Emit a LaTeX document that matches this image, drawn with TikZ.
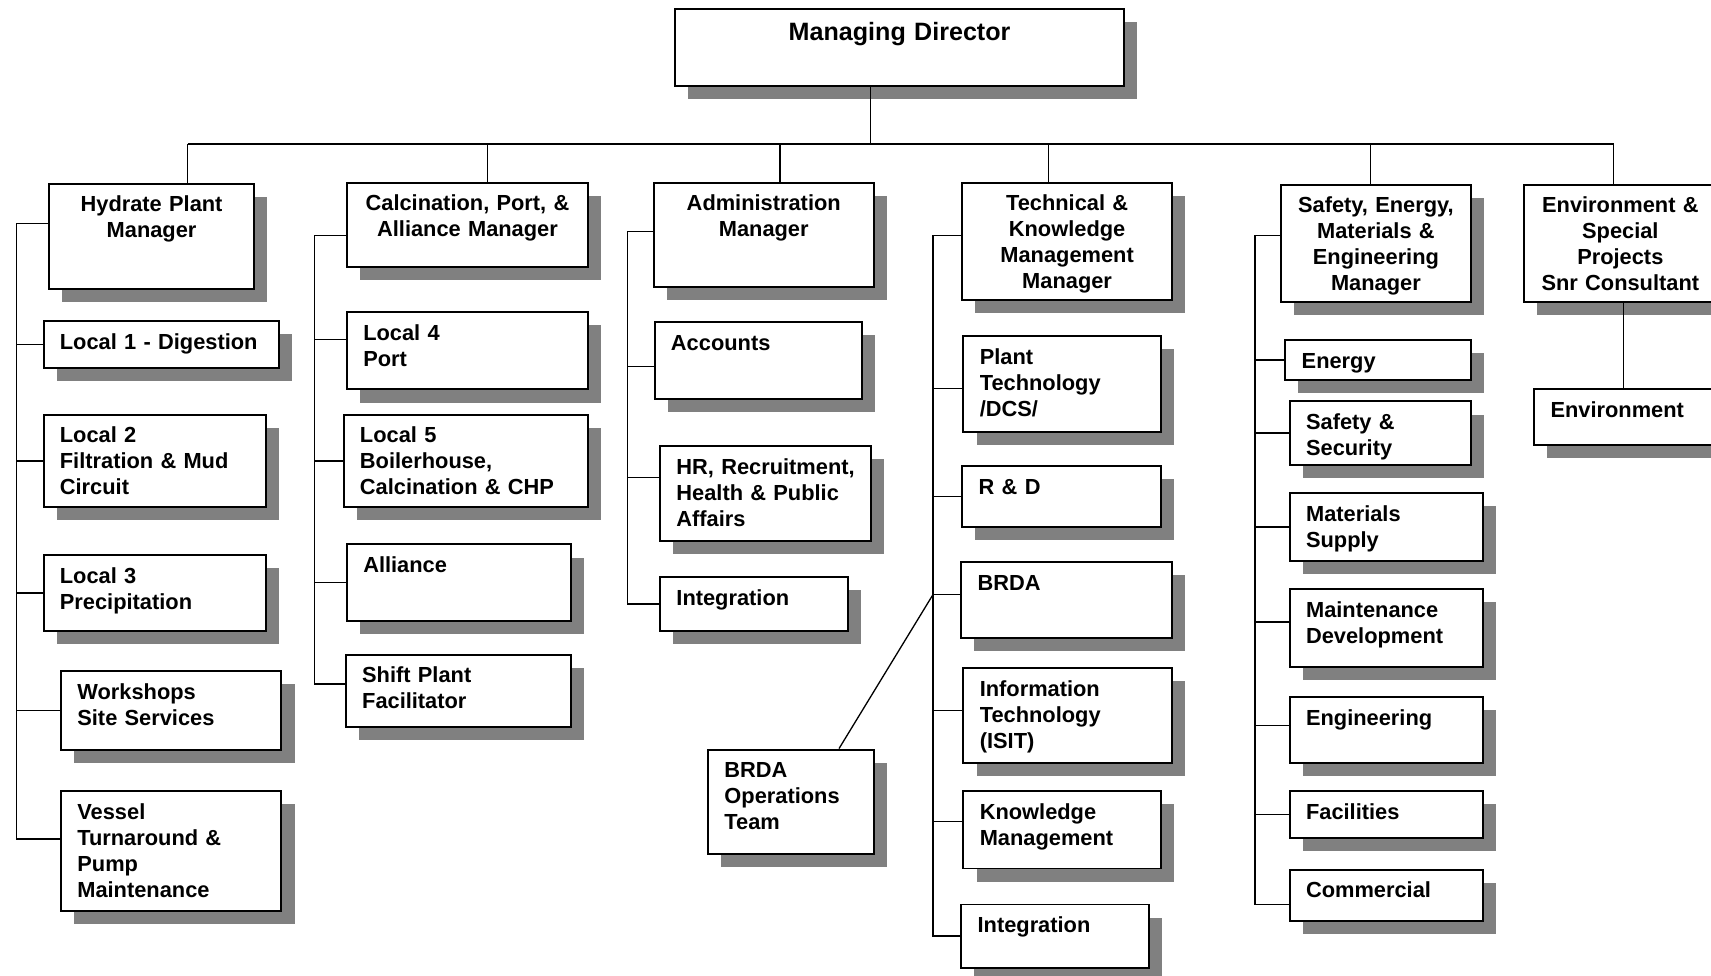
\documentclass[tikz,border=0pt]{standalone}
\usepackage{fontspec}
\setmainfont{Liberation Sans}
\usetikzlibrary{shadows}
\definecolor{shadowgray}{HTML}{808080}

\tikzset{
  unit/.style={draw, line width=0.9pt, fill=white, anchor=north west,
    drop shadow={shadow xshift=6pt, shadow yshift=-6pt, fill=shadowgray, opacity=1},
    inner xsep=7.5pt, inner ysep=4pt, text height=9pt,
    font=\fontsize{10}{11.9}\selectfont\bfseries,
    execute at begin node={\rightskip=0pt plus 1fil minus 100pt}},
  head/.style={unit, inner xsep=3pt, inner ysep=3.5pt,
    execute at begin node={\leftskip=0pt plus 1fil\rightskip=0pt plus 1fil minus 100pt\parfillskip=0pt\let\\\par}},
  chief/.style={head, inner ysep=5.5pt, font=\fontsize{11.5}{13}\selectfont\bfseries},
  dims/.style 2 args={
    /utils/exec={\pgfmathsetlengthmacro\boxw{#1*0.5pt-2*\pgfkeysvalueof{/pgf/inner xsep}}%
      \pgfmathsetlengthmacro\boxd{#2*0.5pt-2*\pgfkeysvalueof{/pgf/inner ysep}-9pt}},
    text width=\boxw, text depth=\boxd},
  link/.style={line width=0.6pt}
}

\begin{document}
\begin{tikzpicture}[x=0.5pt, y=-0.5pt]
    \useasboundingbox (0,0) rectangle (1568,894);
    \coordinate (bus) at (0,132);
    \coordinate (sp1) at (15,0);
    \coordinate (sp2) at (288,0);
    \coordinate (sp3) at (575,0);
    \coordinate (sp4) at (855,0);
    \coordinate (sp5) at (1150,0);

    % Director
    \node[chief, dims={411}{71}] (md) at (618,7) {Managing Director};

    % Managers
    \node[head, dims={188}{96}] (hpm) at (44,168) {Hydrate Plant\\Manager};
    \node[head, dims={221}{77}] (cpa) at (317,167) {Calcination, Port, \&\\Alliance Manager};
    \node[head, dims={202}{95}] (adm) at (598,167) {Administration\\Manager};
    \node[head, dims={192}{107}] (tkm) at (881,167) {Technical \&\\Knowledge\\Management\\Manager};
    \node[head, dims={174}{107}] (sem) at (1173,169) {Safety, Energy,\\Materials \&\\Engineering\\Manager};
    \node[head, dims={176}{107}] (esp) at (1396,169) {Environment \&\\Special\\Projects\\Snr Consultant};

    % Hydrate plant
    \node[unit, dims={216}{43}] (loc1) at (39,293) {Local 1 - Digestion};
    \node[unit, dims={204}{85}] (loc2) at (39,379) {Local 2\\Filtration \& Mud\\Circuit};
    \node[unit, dims={204}{69}] (loc3) at (39,508) {Local 3\\Precipitation};
    \node[unit, dims={202}{72}] (wss) at (55,614) {Workshops\\Site Services};
    \node[unit, dims={202}{110}] (vtp) at (55,724) {Vessel\\Turnaround \&\\Pump\\Maintenance};

    % Calcination, port, alliance
    \node[unit, dims={221}{71}] (loc4) at (317,285) {Local 4\\Port};
    \node[unit, dims={224}{85}] (loc5) at (314,379) {Local 5\\Boilerhouse,\\Calcination \& CHP};
    \node[unit, dims={205}{70}] (alli) at (317,498) {Alliance};
    \node[unit, dims={206}{66}] (shf) at (316,599) {Shift Plant\\Facilitator};

    % Administration
    \node[unit, dims={190}{71}] (acc) at (599,294) {Accounts};
    \node[unit, dims={193}{87}] (hrp) at (604,408) {HR, Recruitment,\\Health \& Public\\Affairs};
    \node[unit, dims={172}{49}] (int1) at (604,528) {Integration};

    % Technical & knowledge
    \node[unit, dims={181}{88}] (ptd) at (882,307) {Plant\\Technology\\/DCS/};
    \node[unit, dims={182}{56}] (rnd) at (881,426) {R \& D};
    \node[unit, dims={193}{70}] (brda) at (880,514) {BRDA};
    \node[unit, dims={191}{87}] (isit) at (882,611) {Information\\Technology\\(ISIT)};
    \node[unit, dims={181}{71}] (kmg) at (882,724) {Knowledge\\Management};
    \node[unit, dims={172}{58}] (int2) at (880,828) {Integration};
    \node[unit, dims={152}{96}] (bot) at (648,686) {BRDA\\Operations\\Team};

    % Safety, energy, materials
    \node[unit, dims={170}{36}] (nrg) at (1177,311) {Energy};
    \node[unit, dims={166}{58}] (ssc) at (1181,367) {Safety \&\\Security};
    \node[unit, dims={177}{62}] (mts) at (1181,451) {Materials\\Supply};
    \node[unit, dims={177}{71}] (mdv) at (1181,539) {Maintenance\\Development};
    \node[unit, dims={177}{60}] (eng) at (1181,638) {Engineering};
    \node[unit, dims={177}{43}] (fac) at (1181,724) {Facilities};
    \node[unit, dims={177}{47}] (com) at (1181,796) {Commercial};

    % Environment
    \node[unit, dims={170}{51}] (envt) at (1405,356) {Environment};

    % Top level lines
    \draw[link] ([xshift=-13.25pt]md.south) -- ([xshift=-13.25pt]md.south |- bus);
    \draw[link] ([xshift=16.5pt]hpm.north |- bus) -- ([xshift=-3pt]esp.north |- bus);
    \foreach \n/\s in {hpm/16.5, cpa/9.25, adm/7.5, tkm/-8.5, sem/-2.5, esp/-3}
        \draw[link] ([xshift=\s pt]\n.north) -- ([xshift=\s pt]\n.north |- bus);

    % Column spines
    \draw[link] ([yshift=-18.5pt]hpm.north west) -| ([yshift=5.5pt]vtp.west -| sp1) -- ([yshift=5.5pt]vtp.west);
    \foreach \n/\s in {loc1/0, loc2/0, loc3/0, wss/0}
        \draw[link] ([yshift=\s pt]\n.west -| sp1) -- ([yshift=\s pt]\n.west);

    \draw[link] ([yshift=-24.5pt]cpa.north west) -| ([yshift=3pt]shf.west -| sp2) -- ([yshift=3pt]shf.west);
    \foreach \n/\s in {loc4/5.25, loc5/0, alli/0}
        \draw[link] ([yshift=\s pt]\n.west -| sp2) -- ([yshift=\s pt]\n.west);

    \draw[link] ([yshift=-22.5pt]adm.north west) -| (int1.west -| sp3) -- (int1.west);
    \foreach \n/\s in {acc/-2.75, hrp/7.25}
        \draw[link] ([yshift=\s pt]\n.west -| sp3) -- ([yshift=\s pt]\n.west);

    \draw[link] ([yshift=-24.5pt]tkm.north west) -| (int2.west -| sp4) -- (int2.west);
    \foreach \n/\s in {ptd/-2, rnd/0, brda/2.5, isit/2.25, kmg/3.75}
        \draw[link] ([yshift=\s pt]\n.west -| sp4) -- ([yshift=\s pt]\n.west);
    \draw[link] ([xshift=22pt]bot.north) -- ([yshift=2.5pt]brda.west -| sp4);

    \draw[link] ([yshift=-23.5pt]sem.north west) -| ([yshift=-4.25pt]com.west -| sp5) -- ([yshift=-4.25pt]com.west);
    \foreach \n/\s in {nrg/0, ssc/0, mts/0, mdv/2.75, eng/2, fac/0}
        \draw[link] ([yshift=\s pt]\n.west -| sp5) -- ([yshift=\s pt]\n.west);

    \draw[link] ([xshift=1.5pt]esp.south) -- ([xshift=1.5pt]esp.south |- envt.north);
\end{tikzpicture}
\end{document}
